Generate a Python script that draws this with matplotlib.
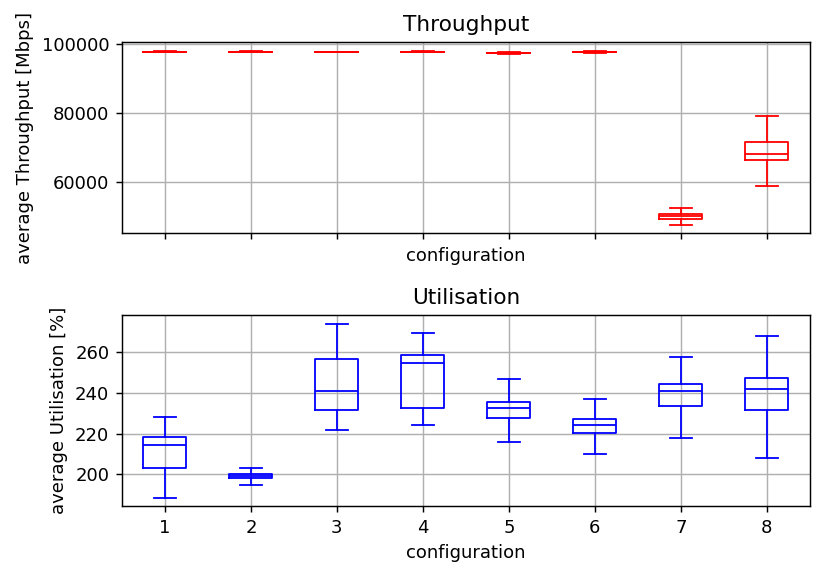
import matplotlib
matplotlib.use("Agg")
import matplotlib.pyplot as plt

# configurations on the shared x axis
configs = [1, 2, 3, 4, 5, 6, 7, 8]

# Throughput [Mbps] five-number summaries per configuration
thr_whislo = [97750, 97800, 97750, 97800, 97350, 97500, 47590, 58920]
thr_q1     = [97820, 97860, 97820, 97870, 97550, 97800, 49340, 66390]
thr_med    = [97850, 97880, 97850, 97900, 97600, 97830, 50030, 68130]
thr_q3     = [97880, 97900, 97880, 97930, 97650, 97860, 50620, 71620]
thr_whishi = [97950, 97950, 97930, 97980, 97800, 98150, 52450, 79260]

# Utilisation [%] five-number summaries per configuration
utl_whislo = [188.4, 194.6, 222.0, 224.1, 216.1, 210.0, 217.9, 208.1]
utl_q1     = [202.8, 197.9, 231.8, 232.5, 227.9, 220.2, 233.8, 231.5]
utl_med    = [214.6, 199.0, 241.2, 254.6, 232.5, 224.1, 240.8, 241.8]
utl_q3     = [218.2, 200.0, 256.7, 258.7, 235.6, 227.2, 244.6, 247.4]
utl_whishi = [228.4, 202.9, 274.1, 269.7, 246.9, 237.2, 257.6, 268.2]

S = 1.3  # scale factor for fonts and line widths
plt.rcParams.update({
    "font.family": "DejaVu Sans",
    "font.size": 10 * S,
    "axes.linewidth": 0.8 * S,
    "xtick.major.width": 0.8 * S,
    "ytick.major.width": 0.8 * S,
    "xtick.major.size": 3.5 * S,
    "ytick.major.size": 3.5 * S,
    "xtick.major.pad": 3.5 * S,
    "ytick.major.pad": 3.5 * S,
    "axes.labelpad": 4 * S,
})


def stats(lo, q1, med, q3, hi):
    return [dict(whislo=a, q1=b, med=c, q3=d, whishi=e, fliers=[])
            for a, b, c, d, e in zip(lo, q1, med, q3, hi)]


def draw(ax, st, color):
    lw = 1.0 * S
    ax.bxp(st, positions=configs, widths=0.5, showfliers=False,
           boxprops=dict(color=color, linewidth=lw),
           whiskerprops=dict(color=color, linewidth=lw),
           capprops=dict(color=color, linewidth=lw),
           medianprops=dict(color=color, linewidth=lw))
    ax.grid(True, color="#b0b0b0", linewidth=0.8 * S)
    ax.set_axisbelow(True)
    ax.set_xlim(0.5, 8.5)


fig, (ax1, ax2) = plt.subplots(2, 1, sharex=True, figsize=(8.13, 5.69), dpi=100)
fig.subplots_adjust(left=0.150, right=0.996, top=0.926, bottom=0.110, hspace=0.427)

draw(ax1, stats(thr_whislo, thr_q1, thr_med, thr_q3, thr_whishi), "#ff0000")
ax1.set_title("Throughput", fontsize=12 * S, pad=6 * S)
ax1.set_ylabel("average Throughput [Mbps]")
ax1.set_xlabel("configuration")
ax1.set_yticks([60000, 80000, 100000])
ax1.tick_params(labelbottom=False)

draw(ax2, stats(utl_whislo, utl_q1, utl_med, utl_q3, utl_whishi), "#0000ff")
ax2.set_title("Utilisation", fontsize=12 * S, pad=6 * S)
ax2.set_ylabel("average Utilisation [%]")
ax2.set_xlabel("configuration")
ax2.set_xticks(configs)
ax2.set_xticklabels([str(c) for c in configs])
ax2.set_yticks([200, 220, 240, 260])

fig.savefig("out.png", dpi=100)
